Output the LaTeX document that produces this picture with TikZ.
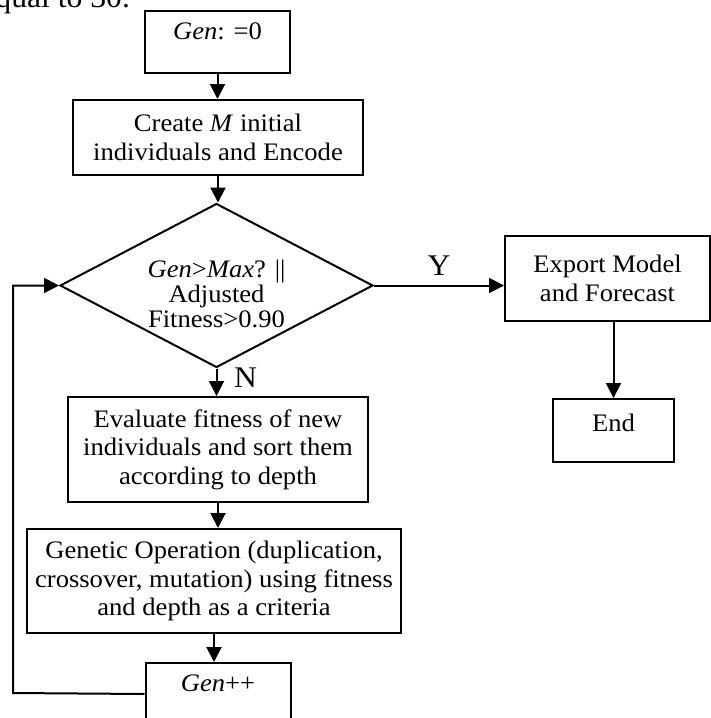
\documentclass[tikz,border=0pt]{standalone}
\usepackage{fontspec}
\setmainfont{Liberation Serif}[FakeStretch=1.055]
\usetikzlibrary{arrows.meta,shapes.geometric}

\begin{document}
\begin{tikzpicture}[x=0.5pt,y=-0.5pt,
	every node/.style={font=\fontsize{12.6}{14.2}\selectfont},
	box/.style={draw,line width=1pt,align=center,inner sep=0pt},
	topbox/.style={box,minimum width=72.5pt,text height=14pt,text depth=17pt},
	arr/.style={line width=1pt,-{Triangle[length=7.5pt,width=7.5pt]}}]
			\useasboundingbox (0,0) rectangle (711,718);
			\clip (0,0) rectangle (711,718);
			\node[anchor=base east,font=\fontsize{15}{17}\selectfont] (prev) at (137,7) {qual to 30.};
			\node[topbox,anchor=north] (gen) at (217.5,10) {\textit{Gen}: =0};
			\node[box,minimum width=145pt,minimum height=37.5pt] (create) at (218,137.5) {Create \textit{M} initial\\individuals and Encode};
			\node[box,diamond,shape aspect=1.9,minimum width=156.5pt,minimum height=82pt,font=\fontsize{12.6}{12.6}\selectfont] (dec) at (216.5,285.5) {\rule{0pt}{17pt}\textit{Gen}>\textit{Max}? ||\\Adjusted\\Fitness>0.90};
			\node[box,minimum width=102.5pt,minimum height=42.5pt] (export) at (607.5,278.5) {Export Model\\and Forecast};
			\node[box,minimum width=60.5pt,text height=16pt,text depth=15.5pt,anchor=north] (end) at (613.5,398) {End};
			\node[box,minimum width=150pt,minimum height=52.5pt] (eval) at (218,449.5) {Evaluate fitness of new\\individuals and sort them\\according to depth};
			\node[box,minimum width=187pt,minimum height=52pt] (gop) at (214,581) {Genetic Operation (duplication,\\crossover, mutation) using fitness\\and depth as a criteria};
			\node[topbox,anchor=north] (inc) at (218,662) {\textit{Gen}++};
			\path (13,693) coordinate (back);
			\foreach \a/\b in {gen/create,create/dec,eval/gop,gop/inc} \draw[arr] (\a.south) -- (\a.south|-\b.north);
			\draw[arr] (dec.east) -- node[above=1pt,font=\fontsize{15}{17}\selectfont]{Y} (dec.east-|export.west);
			\draw[arr] (dec.south) -- node[pos=.35,right=5pt,font=\fontsize{15}{17}\selectfont]{N} (dec.south|-eval.north);
			\draw[arr] (export.south-|end.north) -- (end.north);
			\draw[arr] (inc.west) -- (back) |- (dec.west);
		\end{tikzpicture}
\end{document}
